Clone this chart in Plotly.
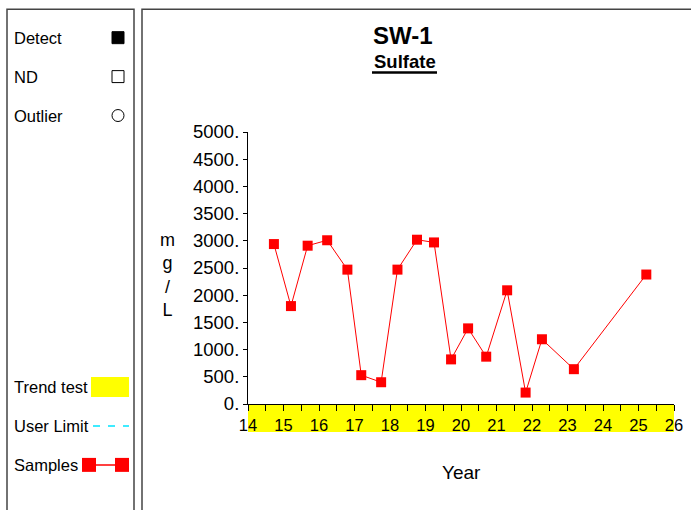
import plotly.graph_objects as go

# Sample record for SW-1 (sulfate, mg/L)
years = [14.73, 15.21, 15.68, 16.23, 16.80, 17.19, 17.75, 18.21, 18.76,
         19.24, 19.72, 20.20, 20.71, 21.30, 21.82, 22.28, 23.18, 25.22]
sulfate = [2940, 1800, 2910, 3010, 2470, 530, 400, 2470, 3020,
           2970, 820, 1390, 870, 2090, 210, 1190, 640, 2380]

y_ticks = [0, 500, 1000, 1500, 2000, 2500, 3000, 3500, 4000, 4500, 5000]
y_tick_labels = [f"{v}." for v in y_ticks]
x_ticks = list(range(14, 27))
x_tick_labels = [str(v) for v in x_ticks]

W, H = 691, 510
L, R, T, B = 248, 674, 131.5, 404  # plot area in pixels


def px(x):
    return (x - L) / (R - L)


def py(y):
    return (B - y) / (B - T)


fig = go.Figure()

fig.add_trace(go.Scatter(
    x=years, y=sulfate, mode="lines+markers",
    line=dict(color="#ff0000", width=1),
    marker=dict(symbol="square", size=10, color="#ff0000"),
    showlegend=False, cliponaxis=False,
))

shapes = []
annotations = []

# Trend-test band under the x axis
shapes.append(dict(type="rect", xref="x", yref="paper", x0=14, x1=26,
                   y0=py(432), y1=py(405), fillcolor="#ffff00", line_width=0,
                   layer="below"))

# Panel frames
frame = dict(color="#444444", width=1.5)
shapes.append(dict(type="rect", xref="paper", yref="paper",
                   x0=px(7), x1=px(134), y0=py(520), y1=py(8.5), line=frame))
shapes.append(dict(type="rect", xref="paper", yref="paper",
                   x0=px(142), x1=px(720), y0=py(520), y1=py(8.5), line=frame))

# Legend symbols
shapes.append(dict(type="rect", xref="paper", yref="paper",
                   x0=px(112), x1=px(124), y0=py(43), y1=py(31),
                   fillcolor="black", line=dict(color="black", width=1)))
shapes.append(dict(type="rect", xref="paper", yref="paper",
                   x0=px(112), x1=px(124), y0=py(82), y1=py(70),
                   fillcolor="white", line=dict(color="black", width=1)))
shapes.append(dict(type="circle", xref="paper", yref="paper",
                   x0=px(112), x1=px(124), y0=py(121), y1=py(109),
                   fillcolor="white", line=dict(color="black", width=1)))
shapes.append(dict(type="rect", xref="paper", yref="paper",
                   x0=px(91), x1=px(129), y0=py(397), y1=py(377),
                   fillcolor="#ffff00", line_width=0))
shapes.append(dict(type="line", xref="paper", yref="paper",
                   x0=px(93), x1=px(129), y0=py(426), y1=py(426),
                   line=dict(color="#00e5ff", width=1.5, dash="7px,8px")))
shapes.append(dict(type="line", xref="paper", yref="paper",
                   x0=px(89), x1=px(122), y0=py(465), y1=py(465),
                   line=dict(color="#ff0000", width=1.5)))
for cx in (89, 122):
    shapes.append(dict(type="rect", xref="paper", yref="paper",
                       x0=px(cx - 7), x1=px(cx + 7), y0=py(472), y1=py(458),
                       fillcolor="#ff0000", line_width=0))

# Underline below the subtitle
shapes.append(dict(type="line", xref="paper", yref="paper",
                   x0=px(372), x1=px(437), y0=py(72), y1=py(72),
                   line=dict(color="black", width=2.5)))

legend_labels = [("Detect", 37), ("ND", 76), ("Outlier", 115),
                 ("Trend test", 387), ("User Limit", 426), ("Samples", 465)]
for text, yy in legend_labels:
    annotations.append(dict(text=text, xref="paper", yref="paper",
                            x=px(11.5), y=py(yy), xanchor="left", yanchor="middle",
                            showarrow=False, font=dict(size=16.5, color="black")))

annotations.append(dict(text="<b>SW-1</b>", xref="paper", yref="paper",
                        x=px(403), y=py(35), xanchor="center", yanchor="middle",
                        showarrow=False, font=dict(size=24, color="black")))
annotations.append(dict(text="<b>Sulfate</b>", xref="paper", yref="paper",
                        x=px(404.5), y=py(61), xanchor="center", yanchor="middle",
                        showarrow=False, font=dict(size=18.5, color="black")))
annotations.append(dict(text="m<br>g<br>/<br>L", xref="paper", yref="paper",
                        x=px(167), y=py(275), xanchor="center", yanchor="middle",
                        showarrow=False, font=dict(size=18, color="black")))
annotations.append(dict(text="Year", xref="paper", yref="paper",
                        x=px(461), y=py(473), xanchor="center", yanchor="middle",
                        showarrow=False, font=dict(size=19, color="black")))

fig.update_layout(
    width=W, height=H,
    margin=dict(l=L, r=W - R, t=T, b=H - B, pad=0, autoexpand=False),
    paper_bgcolor="white", plot_bgcolor="white",
    font=dict(family="Liberation Sans, Arial, sans-serif", color="black"),
    shapes=shapes, annotations=annotations,
    xaxis=dict(range=[14, 26], tickmode="array", tickvals=x_ticks,
               ticktext=x_tick_labels, ticks="outside", ticklen=6,
               tickcolor="black", showline=True, linecolor="black",
               linewidth=1, showgrid=False, zeroline=False, automargin=False,
               tickfont=dict(size=16.5),
               minor=dict(tickvals=[v + 0.5 for v in x_ticks[:-1]],
                          ticks="outside", ticklen=6, tickcolor="black")),
    yaxis=dict(range=[0, 5000], tickmode="array", tickvals=y_ticks,
               ticktext=y_tick_labels, ticks="outside", ticklen=4,
               tickcolor="black", showline=True, linecolor="black",
               linewidth=1, showgrid=False, zeroline=False, automargin=False,
               tickfont=dict(size=18.5)),
)

fig.write_html("out.html")
